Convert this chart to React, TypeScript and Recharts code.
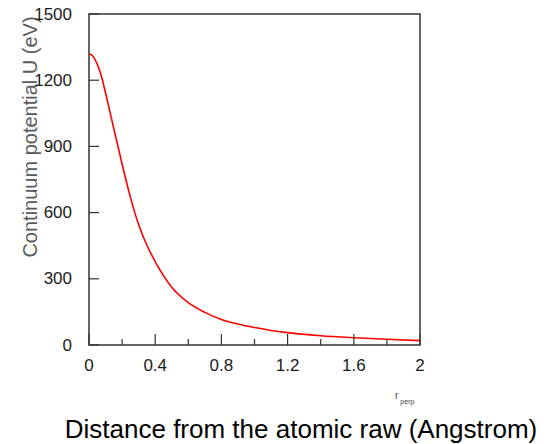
import { Line, LineChart, ReferenceArea, XAxis, YAxis } from "recharts";

// 連続ポテンシャル U の r_perp 依存。枠付き・内向き目盛りのプロット。

const FONT = '"Liberation Sans", Arial, Helvetica, sans-serif';
const CURVE_RED = "#ff0000";
const FRAME = "#333333";

// 距離 r_perp (Å)
const R_PERP = [
  0, 0.025, 0.05, 0.075, 0.1, 0.15, 0.2, 0.25, 0.3, 0.35, 0.4, 0.5, 0.6, 0.7, 0.8, 0.9, 1.0, 1.2,
  1.4, 1.6, 1.8, 2.0,
];
// ポテンシャル U (eV)
const U_EV = [
  1320, 1308, 1272, 1218, 1142, 980, 820, 670, 545, 452, 378, 262, 192, 148, 116, 95, 79, 56, 42,
  33, 26, 20,
];

const X_TICKS = [0, 0.2, 0.4, 0.6, 0.8, 1.0, 1.2, 1.4, 1.6, 1.8, 2.0];
const X_LABELS = ["0", "", "0.4", "", "0.8", "", "1.2", "", "1.6", "", "2"];
const Y_TICKS = [0, 300, 600, 900, 1200, 1500];
const Y_LABELS = ["0", "300", "600", "900", "1200", "1500"];

const Y_TITLE = "Continuum potential U (eV)";
const X_TITLE = "Distance from the atomic raw (Angstrom)";

const data = R_PERP.map((r, i) => ({ r, u: U_EV[i] }));

function XTick({ x, y, index }: { x: number; y: number; index: number }) {
  const label = X_LABELS[index];
  const major = label !== "";
  return (
    <g>
      <line x1={x} x2={x} y1={y} y2={y - (major ? 11 : 6)} stroke={FRAME} strokeWidth={1.2} />
      {major && (
        <text
          x={x}
          y={y + 20}
          textAnchor="middle"
          dominantBaseline="central"
          fontSize={17}
          fontFamily={FONT}
          fill="#1a1a1a"
        >
          {label}
        </text>
      )}
    </g>
  );
}

function YTick({ x, y, index }: { x: number; y: number; index: number }) {
  return (
    <g>
      <line x1={x} x2={x + 10} y1={y} y2={y} stroke={FRAME} strokeWidth={1.2} />
      <text
        x={x - 17}
        y={y}
        textAnchor="end"
        dominantBaseline="central"
        fontSize={17}
        fontFamily={FONT}
        fill="#1a1a1a"
      >
        {Y_LABELS[index]}
      </text>
    </g>
  );
}

function YTitle({ viewBox }: { viewBox?: { x: number; y: number } }) {
  const vx = viewBox?.x ?? 0;
  const vy = viewBox?.y ?? 0;
  const cx = vx + 11;
  const cy = vy + 123;
  return (
    <text
      x={cx}
      y={cy}
      transform={`rotate(-90 ${cx} ${cy})`}
      textAnchor="middle"
      dominantBaseline="central"
      fontSize={20}
      fontFamily={FONT}
      fill="#5a5a5a"
    >
      {Y_TITLE}
    </text>
  );
}

function XTitle({ viewBox }: { viewBox?: { x: number; y: number; width: number } }) {
  const vx = viewBox?.x ?? 0;
  const vy = viewBox?.y ?? 0;
  const w = viewBox?.width ?? 0;
  return (
    <g fontFamily={FONT}>
      {/* r_perp */}
      <text x={vx + w - 25} y={vy + 54} fontSize={10} fill="#444">
        r
        <tspan fontSize={7} dx={2} dy={5}>
          perp
        </tspan>
      </text>
      <text x={vx + 212} y={vy + 93} textAnchor="middle" fontSize={26} fill="#000">
        {X_TITLE}
      </text>
    </g>
  );
}

export default function App() {
  return (
    <div style={{ position: "absolute", left: 0, top: 0, background: "#fff" }}>
      <LineChart width={557} height={444} data={data} margin={{ top: 14, right: 137, bottom: 59, left: 19 }}>
        <XAxis
          dataKey="r"
          type="number"
          domain={[0, 2]}
          ticks={X_TICKS}
          interval={0}
          tickLine={false}
          axisLine={false}
          tickSize={0}
          tickMargin={0}
          height={40}
          tick={(p: any) => <XTick x={p.x} y={p.y} index={p.index} />}
          label={<XTitle />}
        />
        <YAxis
          type="number"
          domain={[0, 1500]}
          ticks={Y_TICKS}
          interval={0}
          tickLine={false}
          axisLine={false}
          tickSize={0}
          tickMargin={0}
          width={70}
          tick={(p: any) => <YTick x={p.x} y={p.y} index={p.index} />}
          label={<YTitle />}
        />
        <ReferenceArea x1={0} x2={2} y1={0} y2={1500} fill="none" stroke={FRAME} strokeWidth={1.5} fillOpacity={0} />
        <Line
          dataKey="u"
          type="monotone"
          stroke={CURVE_RED}
          strokeWidth={1.6}
          dot={false}
          isAnimationActive={false}
        />
      </LineChart>
    </div>
  );
}
